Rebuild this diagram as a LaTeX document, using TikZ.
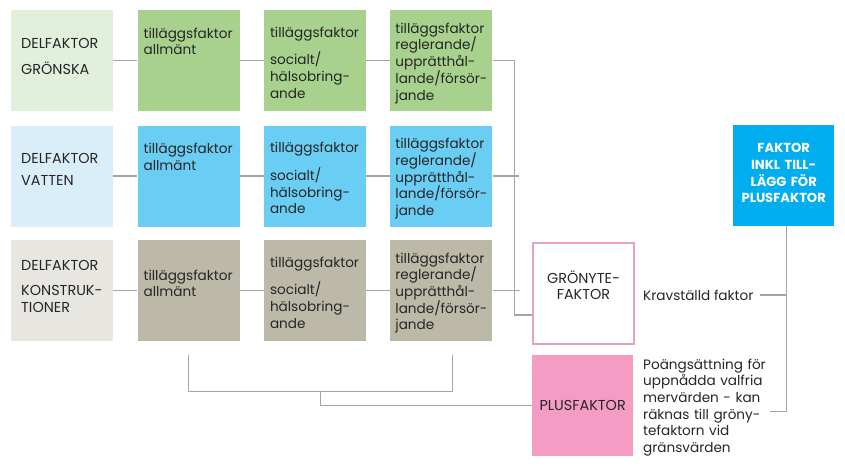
\documentclass[tikz,border=0pt]{standalone}
\usepackage{fontspec}
\setmainfont{Poppins}
\usetikzlibrary{positioning,calc}
\definecolor{gfGreenL}{RGB}{226,239,218}
\definecolor{gfGreen}{RGB}{169,209,142}
\definecolor{gfBlueL}{RGB}{218,238,250}
\definecolor{gfBlue}{RGB}{106,205,244}
\definecolor{gfTaupeL}{RGB}{231,230,225}
\definecolor{gfTaupe}{RGB}{188,185,169}
\definecolor{gfCyan}{RGB}{0,174,239}
\definecolor{gfPink}{RGB}{244,156,195}
\definecolor{gfPinkLine}{RGB}{232,160,196}
\definecolor{gfLine}{RGB}{168,166,156}
\newcommand{\gftext}{\fontsize{13.6}{16.7}\selectfont}
\newcommand{\gfcaps}{\fontsize{14.4}{16.7}\selectfont}
\tikzset{
  gfbox/.style={
    anchor=north west, inner xsep=6pt, inner ysep=0pt, text width=90pt,
    minimum width=102pt, minimum height=101pt, align=left, font=\gftext,
    text=black!85
  },
  delbox/.style={gfbox, font=\gfcaps, inner xsep=10pt, text width=82pt, text height=38pt, text depth=63pt},
  addbox/.style={gfbox, text height=28pt, text depth=73pt},
  socbox/.style={gfbox, text height=27pt, text depth=74pt},
  regbox/.style={gfbox, inner xsep=5pt, text width=92pt, text height=23pt, text depth=78pt},
  sumbox/.style={
    inner sep=0pt, text width=101pt, minimum height=101pt, align=center,
    font=\gfcaps, text=black!85
  },
  note/.style={inner sep=0pt, align=left, font=\gftext, text=black!85},
  conn/.style={draw=gfLine, line width=1.3pt}
}

\begin{document}
\begin{tikzpicture}[x=1pt, y=-1pt, node distance=14pt and 24pt]
  \useasboundingbox (0,0) rectangle (845,466);
  % row 1
  \node[delbox, fill=gfGreenL] (d1) at (11,10) {DELFAKTOR\\[10pt]GRÖNSKA};
  \node[addbox, fill=gfGreen, right=of d1] (a1) {tilläggsfaktor\\allmänt};
  \node[socbox, fill=gfGreen, right=of a1] (s1) {tilläggsfaktor\\[11pt]socialt/\\hälsobring-\\ande};
  \node[regbox, fill=gfGreen, right=of s1] (r1) {tilläggsfaktor\\reglerande/\\upprätthål-\\lande/försör-\\jande};
  % row 2
  \node[delbox, fill=gfBlueL, below=of d1, text height=38pt, text depth=63pt] (d2) {DELFAKTOR\\[5pt]VATTEN};
  \node[addbox, fill=gfBlue, right=of d2] (a2) {tilläggsfaktor\\allmänt};
  \node[socbox, fill=gfBlue, right=of a2] (s2) {tilläggsfaktor\\[11pt]socialt/\\hälsobring-\\ande};
  \node[regbox, fill=gfBlue, right=of s2] (r2) {tilläggsfaktor\\reglerande/\\upprätthål-\\lande/försör-\\jande};
  % row 3
  \node[delbox, fill=gfTaupeL, below=13pt of d2, text height=30pt, text depth=71pt] (d3) {DELFAKTOR\\[9pt]KONSTRUK-\\TIONER};
  \node[addbox, fill=gfTaupe, right=of d3, text height=40pt, text depth=61pt] (a3) {tilläggsfaktor\\allmänt};
  \node[socbox, fill=gfTaupe, right=of a3] (s3) {tilläggsfaktor\\[11pt]socialt/\\hälsobring-\\ande};
  \node[regbox, fill=gfTaupe, right=of s3] (r3) {tilläggsfaktor\\reglerande/\\upprätthål-\\lande/försör-\\jande};
  % result boxes
  \node[sumbox, anchor=north west, draw=gfPinkLine, line width=2pt, text height=40pt, text depth=61pt] (g) at (532,242) {GRÖNYTE-\\FAKTOR};
  \node[sumbox, anchor=north west, fill=gfPink] (p) at (532,355) {PLUSFAKTOR};
  \node[sumbox, anchor=north west, fill=gfCyan, text=white, font=\fontsize{13.1}{16.9}\selectfont\bfseries, text height=27pt, text depth=74pt] (f) at (733,125) {FAKTOR\\INKL TILL-\\LÄGG FÖR\\PLUSFAKTOR};
  \node[note, anchor=base west] (kt) at (643,300) {Kravställd faktor};
  \node[note, anchor=base west, text width=130pt] (pt) at (643,369) {Poängsättning för\\uppnådda valfria\\mervärden - kan\\räknas till gröny-\\tefaktorn vid\\gränsvärden};
  % stubs and bracket corners
  \coordinate (e2) at ([xshift=26pt]r2.east);
  \coordinate (e3) at ([xshift=27pt]r3.east);
  \coordinate (b1) at ([yshift=-14pt]a3.south);
  \coordinate (b2) at ([xshift=11pt, yshift=-14pt]r3.south);
  \coordinate (b3) at ($(b1)!0.5!(b2)+(0,36)$);
  % connectors
  \foreach \row in {1,2,3} {
    \draw[conn] (d\row.east) -- (a\row.west);
    \draw[conn] (a\row.east) -- (s\row.west);
    \draw[conn] (s\row.east) -- (r\row.west);
  }
  \draw[conn] (r1.east) -- ++(22,0) |- ([yshift=-21.5pt]g.west);
  \draw[conn] (r2.east) -- (e2);
  \draw[conn] (r3.east) -- (e3);
  \draw[conn] (b1) -- ++(0,36) -| (b2);
  \draw[conn] (b3) |- (p.west);
  \draw[conn] ([xshift=6pt]kt.east) -| ([xshift=3pt]f.south);
  \draw[conn] ([xshift=-3pt, yshift=-4pt]pt.east) -| ([xshift=3pt]f.south);
\end{tikzpicture}
\end{document}
